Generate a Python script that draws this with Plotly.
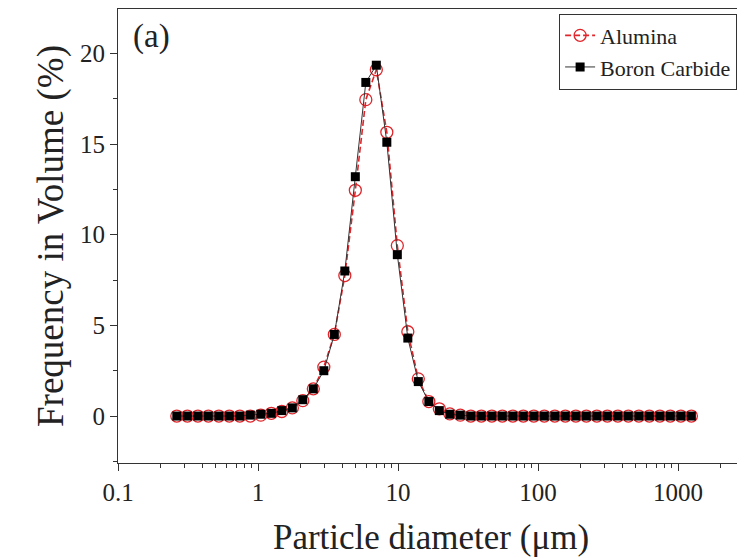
import plotly.graph_objects as go

# Particle diameters (µm), log-spaced bins
diameter = [0.263, 0.313, 0.372, 0.442, 0.525, 0.624, 0.741, 0.881, 1.047, 1.245,
            1.479, 1.758, 2.089, 2.483, 2.951, 3.508, 4.169, 4.955, 5.888, 6.998,
            8.318, 9.886, 11.75, 13.96, 16.60, 19.72, 23.44, 27.86, 33.11, 39.36,
            46.77, 55.59, 66.07, 78.52, 93.33, 110.9, 131.8, 156.7, 186.2, 221.3,
            263.0, 312.6, 371.5, 441.6, 524.8, 623.7, 741.3, 881.0, 1047.0, 1245.0]

alumina = [0, 0, 0, 0, 0, 0, 0, 0, 0.05, 0.15,
           0.25, 0.45, 0.85, 1.5, 2.7, 4.5, 7.75, 12.45, 17.45, 19.1,
           15.65, 9.4, 4.65, 2.05, 0.8, 0.4, 0.12, 0.05, 0, 0,
           0, 0, 0, 0, 0, 0, 0, 0, 0, 0,
           0, 0, 0, 0, 0, 0, 0, 0, 0, 0]

boron_carbide = [0, 0, 0, 0, 0, 0, 0, 0.05, 0.1, 0.15,
                 0.3, 0.45, 0.9, 1.5, 2.5, 4.5, 8.0, 13.2, 18.4, 19.35,
                 15.1, 8.9, 4.3, 1.9, 0.8, 0.3, 0.1, 0.05, 0, 0,
                 0, 0, 0, 0, 0, 0, 0, 0, 0, 0,
                 0, 0, 0, 0, 0, 0, 0, 0, 0, 0]

x_tickvals = [0.1, 1, 10, 100, 1000]
x_ticktext = ["0.1", "1", "10", "100", "1000"]
y_tickvals = [0, 5, 10, 15, 20]

FONT = "Liberation Serif"

fig = go.Figure()
fig.add_trace(go.Scatter(
    x=diameter, y=alumina, name="Alumina", mode="lines+markers",
    line=dict(color="#e0262b", width=1.6, dash="6px,3px"),
    marker=dict(symbol="circle-open", size=12, color="#e0262b", line=dict(width=1.3)),
))
fig.add_trace(go.Scatter(
    x=diameter, y=boron_carbide, name="Boron Carbide", mode="lines+markers",
    line=dict(color="#333333", width=1),
    marker=dict(symbol="square", size=9, color="black"),
))

# the page body adds an 8px offset; figure sized to fit the visible window
fig.update_layout(
    width=737, height=550,
    margin=dict(l=110, r=1, t=1, b=95, autoexpand=False),
    paper_bgcolor="white", plot_bgcolor="white",
    font=dict(family=FONT, color="#222222"),
    showlegend=True,
    legend=dict(x=0.989, y=0.99, xanchor="right", yanchor="top",
                bordercolor="#333333", borderwidth=1, bgcolor="white",
                font=dict(family=FONT, size=22), tracegroupgap=0,
                itemwidth=30),
    annotations=[dict(text="(a)", x=0.02, y=0.985, xref="paper", yref="paper",
                      xanchor="left", yanchor="top", showarrow=False,
                      font=dict(family=FONT, size=33, color="#222222"))],
)

fig.update_xaxes(
    type="log", range=[-1, 3.471], automargin=False,
    tickvals=x_tickvals, ticktext=x_ticktext,
    ticks="outside", ticklen=7, tickwidth=1, tickcolor="#333333",
    minor=dict(ticks="outside", ticklen=4, tickcolor="#333333", dtick="D1", showgrid=False),
    showline=True, linecolor="#333333", linewidth=1, mirror=True,
    showgrid=False, zeroline=False,
    tickfont=dict(family=FONT, size=25),
    title=dict(text="Particle diameter (μm)", font=dict(family=FONT, size=35), standoff=19),
)
fig.update_yaxes(
    range=[-2.59, 22.45], automargin=False,
    tickvals=y_tickvals,
    ticks="outside", ticklen=7, tickwidth=1, tickcolor="#333333",
    minor=dict(ticks="outside", ticklen=4, tickcolor="#333333", dtick=2.5, showgrid=False),
    showline=True, linecolor="#333333", linewidth=1, mirror=True,
    showgrid=False, zeroline=False,
    tickfont=dict(family=FONT, size=25),
    title=dict(text="Frequency in Volume (%)", font=dict(family=FONT, size=37), standoff=5),
)

fig.write_html("out.html")
